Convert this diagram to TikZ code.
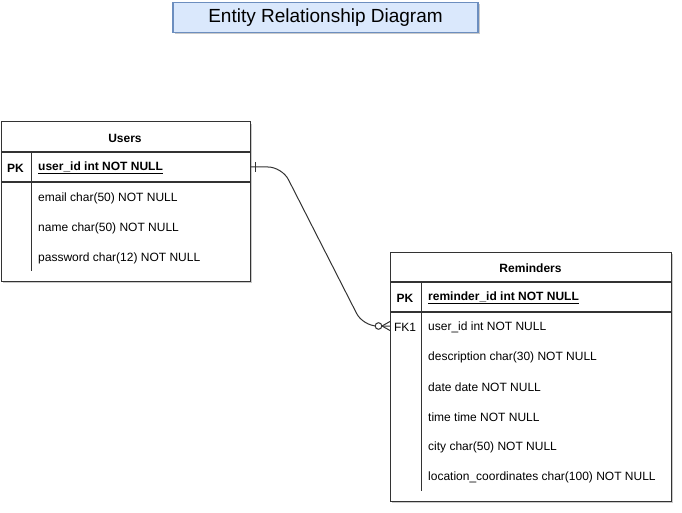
\documentclass[tikz,border=0pt]{standalone}
\usepackage{fontspec}
\setmainfont{Liberation Sans}
\usetikzlibrary{shadows}
\definecolor{titlefill}{HTML}{DAE8FC}
\definecolor{titledraw}{HTML}{6C8EBF}
\definecolor{linec}{HTML}{333333}
\begin{document}
\begin{tikzpicture}[x=1pt,y=-1pt,
  shadowed/.style={drop shadow={shadow xshift=1.5pt,shadow yshift=-2pt,opacity=0.35,fill=black!60}},
  tbl/.style={draw=linec, line width=0.8pt, fill=white, shadowed, anchor=north west, inner sep=0pt},
  sepline/.style={draw=linec, line width=1.1pt},
  divline/.style={draw=linec, line width=0.9pt},
  field/.style={anchor=west, inner sep=0pt, font=\fontsize{12}{14}\selectfont, text=black},
  keyfield/.style={field, font=\fontsize{12}{14}\selectfont\bfseries},
  keycol/.style={inner sep=0pt, font=\fontsize{12}{14}\selectfont\bfseries},
  fkcol/.style={inner sep=0pt, font=\fontsize{12}{14}\selectfont},
  hdr/.style={inner sep=0pt, font=\fontsize{12}{14}\selectfont\bfseries},
  conn/.style={draw=linec, line width=1pt}]
\useasboundingbox (0,0) rectangle (682,513);

% Title
\node[draw=titledraw, fill=titlefill, line width=1.5pt, minimum width=305pt, minimum height=30pt, inner sep=0pt, shadowed,
      font=\fontsize{19}{22}\selectfont] (title) at (325.5,17.5) {Entity Relationship Diagram};

% Users table
\node[tbl, minimum width=249pt, minimum height=159.5pt] (users) at (0.8,121.5) {};
\draw[sepline] (0.8,152) -- (249.8,152);
\draw[sepline] (0.8,182) -- (249.8,182);
\draw[divline] (31,152) -- (31,271);
\node[hdr] (uhead) at (125,138) {Users};
\node[keycol] (upkl) at (15.5,168) {PK};
\node[keyfield] (upk) at (38,168) {\underline{user\_id int NOT NULL}};
\node[field] (uemail) at (38,198) {email char(50) NOT NULL};
\node[field] (uname) at (38,228) {name char(50) NOT NULL};
\node[field] (upass) at (38,258) {password char(12) NOT NULL};

% Reminders table
\node[tbl, minimum width=281pt, minimum height=249pt] (rem) at (390,252) {};
\draw[sepline] (390,282) -- (671,282);
\draw[sepline] (390,312) -- (671,312);
\draw[divline] (421,282) -- (421,491);
\node[hdr] (rhead) at (530.5,268) {Reminders};
\node[keycol] (rpkl) at (405,298) {PK};
\node[keyfield] (rpk) at (428,298) {\underline{reminder\_id int NOT NULL}};
\node[fkcol] (rfkl) at (405,327) {FK1};
\node[field] (rfk) at (428,327) {user\_id int NOT NULL};
\node[field] (rdesc) at (428,357) {description char(30) NOT NULL};
\node[field] (rdate) at (428,387) {date date NOT NULL};
\node[field] (rtime) at (428,417) {time time NOT NULL};
\node[field] (rcity) at (428,447) {city char(50) NOT NULL};
\node[field] (rloc) at (428,477) {location\_coordinates char(100) NOT NULL};

% Connector
\coordinate (cs) at (users.east |- 0,167);
\coordinate (ce) at (rem.west |- 0,326);
\coordinate (c1) at (282,167);
\coordinate (c2) at (363,326);
\draw[conn, rounded corners=14pt] (cs) -- (c1) -- (c2) -- (ce);
% one mark
\draw[conn] ([xshift=5pt,yshift=5pt]cs) -- ([xshift=5pt,yshift=-5pt]cs);
% crow's foot with circle
\draw[conn] ([xshift=-8pt]ce) -- ([yshift=4.5pt]ce);
\draw[conn] ([xshift=-8pt]ce) -- ([yshift=-4.5pt]ce);
\draw[conn, fill=white] ([xshift=-11.5pt]ce) circle (3.3pt);
\end{tikzpicture}
\end{document}
